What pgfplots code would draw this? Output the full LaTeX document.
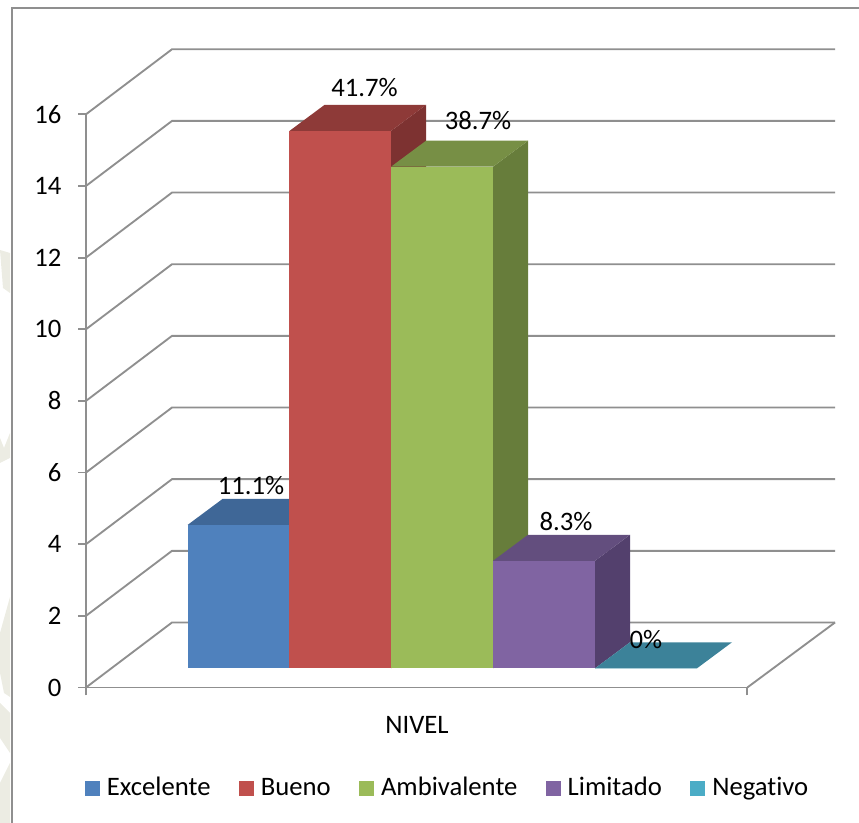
\documentclass[border=0pt]{standalone}
\usepackage{fontspec}
\setmainfont[Ligatures=NoCommon]{Carlito}
\usepackage{pgfplots}
\pgfplotsset{compat=1.18}

\definecolor{wall}{HTML}{8F8F8F}
\definecolor{blueF}{HTML}{4F81BD}\definecolor{blueT}{HTML}{3F6797}
\definecolor{redF}{HTML}{C0504D}\definecolor{redT}{HTML}{8E3A38}\definecolor{redS}{HTML}{7D3231}
\definecolor{greenF}{HTML}{9BBB59}\definecolor{greenT}{HTML}{778F45}\definecolor{greenS}{HTML}{677D3B}
\definecolor{purpF}{HTML}{8064A2}\definecolor{purpT}{HTML}{634E7E}\definecolor{purpS}{HTML}{53406D}
\definecolor{tealF}{HTML}{4BACC6}\definecolor{tealT}{HTML}{3C8299}
\definecolor{seal}{HTML}{ECECE3}

\begin{document}
\begin{tikzpicture}
\begin{scope}[x=0.75pt,y=0.75pt]
\useasboundingbox (0,0) rectangle (859,823);

% pale seal showing at the page margin
\fill[seal] (0,573) -- (10,570) -- (10,530) -- (3,535) -- cycle;
\fill[seal] (0,385) -- (4,375) -- (10,390) -- (10,365) -- (0,360) -- cycle;
\fill[seal] (0,190) -- (10,226) -- (10,126) -- (4,130) -- (0,150) -- cycle;
\fill[seal] (0,120) -- (10,110) -- (10,70) -- (0,85) -- cycle;
\fill[seal] (0,0) -- (10,0) -- (10,60) -- (0,40) -- cycle;

% chart frame: only the top and left edges are drawn
\draw[wall,line width=1.4pt] (12,0) -- (12,815) -- (859,815);
\end{scope}

% floor, back wall and value axis
\begin{axis}[
  at={(64.5pt,101.625pt)}, anchor=south west,
  scale only axis, width=495.98pt, height=429.9pt,
  xmin=86, xmax=747.3, ymin=0, ymax=16,
  clip=false,
  axis x line*=bottom, axis y line*=left,
  axis line style={wall,line width=1.4pt,-},
  tick style={wall,line width=1.4pt},
  tick align=outside, major tick length=6pt,
  xtick={86,747.3}, xticklabels={},
  ytick={0,2,...,16},
  /pgf/number format/assume math mode=true,
  tick label style={font=\fontsize{20}{24}\selectfont},
  yticklabel style={xshift=-9pt},
  xlabel={NIVEL},
  xlabel style={font=\fontsize{20}{24}\selectfont,at={(axis cs:417,-1.04)},anchor=center},
  no markers,
]
\addplot[wall,line width=1.4pt,forget plot] coordinates {(86,0) (172,1.815) (835,1.815)};
\addplot[wall,line width=1.4pt,forget plot] coordinates {(86,2) (172,3.815) (835,3.815)};
\addplot[wall,line width=1.4pt,forget plot] coordinates {(86,4) (172,5.815) (835,5.815)};
\addplot[wall,line width=1.4pt,forget plot] coordinates {(86,6) (172,7.815) (835,7.815)};
\addplot[wall,line width=1.4pt,forget plot] coordinates {(86,8) (172,9.815) (835,9.815)};
\addplot[wall,line width=1.4pt,forget plot] coordinates {(86,10) (172,11.815) (835,11.815)};
\addplot[wall,line width=1.4pt,forget plot] coordinates {(86,12) (172,13.815) (835,13.815)};
\addplot[wall,line width=1.4pt,forget plot] coordinates {(86,14) (172,15.815) (835,15.815)};
\addplot[wall,line width=1.4pt,forget plot] coordinates {(86,16) (172,17.815) (835,17.815)};
\addplot[wall,line width=1.4pt,forget plot] coordinates {(747.3,0) (835,1.815)};
\end{axis}

% the five columns, with their front faces standing on the inner floor line
\begin{axis}[
  at={(64.5pt,101.625pt)}, anchor=south west,
  scale only axis, width=495.98pt, height=429.9pt,
  xmin=86, xmax=747.3, ymin=-0.536, ymax=15.464,
  clip=false, hide axis, no markers,
  bar width=76.5pt,
  legend columns=-1,
  legend image code/.code={\fill[#1,draw=none] (0pt,0pt) rectangle (11.25pt,11.25pt);},
  legend style={
    at={(axis description cs:-0.0015,-0.1745)}, anchor=west,
    draw=none, fill=none, inner sep=0pt, outer sep=0pt,
    font=\fontsize{20}{24}\selectfont,
    nodes={inner sep=0pt,anchor=base west},
    /tikz/every even column/.append style={column sep=21.3pt},
    /tikz/every odd column/.append style={column sep=5.2pt},
  },
]
% Excelente
\addplot[fill=blueT,draw=none,forget plot] coordinates {(187.5,4) (289.5,4) (324.5,4.726) (222.5,4.726)} --cycle;
\addplot[ybar,bar shift=0pt,fill=blueF,draw=none] coordinates {(238.5,4)};
\addlegendentry{Excelente}
% Bueno
\addplot[fill=redS,draw=none,forget plot] coordinates {(391,0) (426,0.726) (426,15.726) (391,15)} --cycle;
\addplot[fill=redT,draw=none,forget plot] coordinates {(289.5,15) (391,15) (426,15.726) (324.5,15.726)} --cycle;
\addplot[ybar,bar shift=0pt,fill=redF,draw=none] coordinates {(340.25,15)};
\addlegendentry{Bueno}
% Ambivalente
\addplot[fill=greenS,draw=none,forget plot] coordinates {(493,0) (528,0.726) (528,14.726) (493,14)} --cycle;
\addplot[fill=greenT,draw=none,forget plot] coordinates {(391,14) (493,14) (528,14.726) (426,14.726)} --cycle;
\addplot[ybar,bar shift=0pt,fill=greenF,draw=none] coordinates {(442,14)};
\addlegendentry{Ambivalente}
% Limitado
\addplot[fill=purpS,draw=none,forget plot] coordinates {(595,0) (630,0.726) (630,3.726) (595,3)} --cycle;
\addplot[fill=purpT,draw=none,forget plot] coordinates {(493,3) (595,3) (630,3.726) (528,3.726)} --cycle;
\addplot[ybar,bar shift=0pt,fill=purpF,draw=none] coordinates {(544,3)};
\addlegendentry{Limitado}
% Negativo: a column of no height shows only its top
\addplot[fill=tealT,draw=none,forget plot] coordinates {(595,0) (697,0) (732,0.726) (630,0.726)} --cycle;
\addplot[ybar,bar shift=0pt,fill=tealF,draw=none] coordinates {(646,0)};
\addlegendentry{Negativo}

% percentage labels above the columns
\begin{scope}[every node/.style={font=\fontsize{20}{24}\selectfont,inner sep=0pt}]
\node at (axis cs:251,5.09) {11.1\%};
\node at (axis cs:364.5,16.2) {41.7\%};
\node at (axis cs:478,15.3) {38.7\%};
\node at (axis cs:566,4.1) {8.3\%};
\node at (axis cs:646,0.8) {0\%};
\end{scope}
\end{axis}
\end{tikzpicture}
\end{document}
